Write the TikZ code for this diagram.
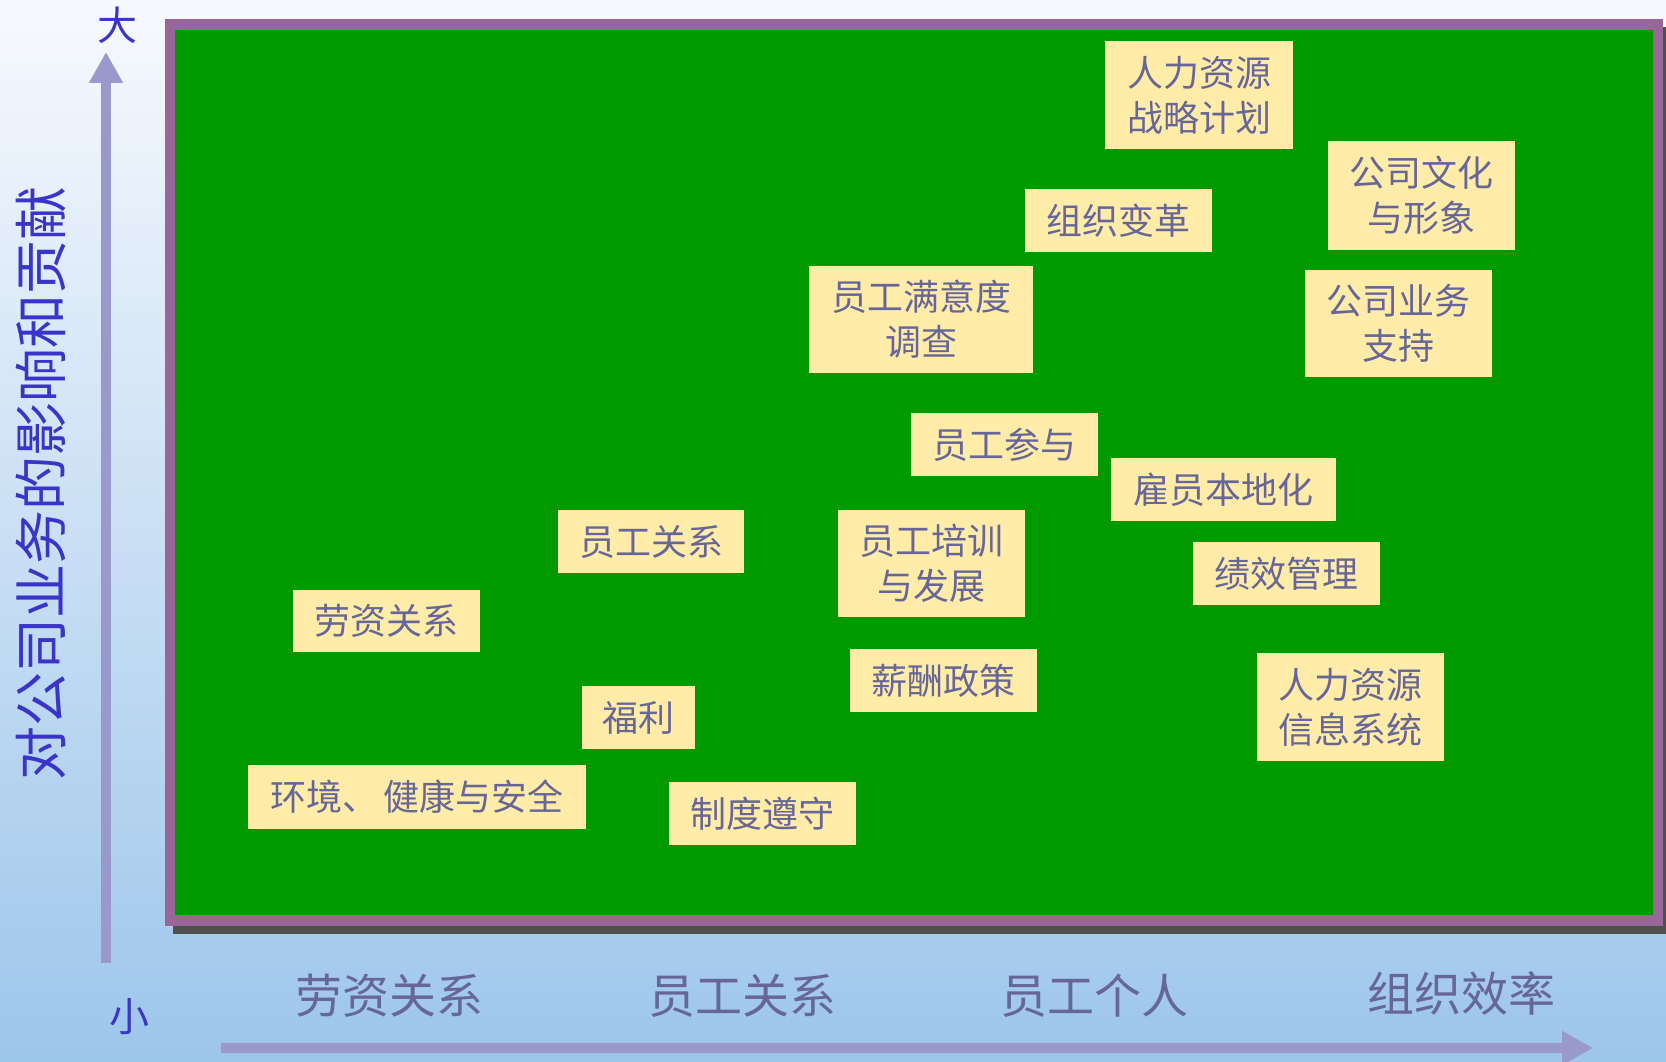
\documentclass[tikz,border=0pt]{standalone}
\usepackage{fontspec}
\setmainfont{Noto Sans CJK SC}
\usetikzlibrary{arrows.meta}
\definecolor{bgtop}{HTML}{F7F9FE}
\definecolor{bgbot}{HTML}{9DC6EB}
\definecolor{frame}{HTML}{996699}
\definecolor{field}{HTML}{009900}
\definecolor{shadowc}{HTML}{505050}
\definecolor{boxfill}{HTML}{FFECA8}
\definecolor{slate}{HTML}{666699}
\definecolor{axblue}{HTML}{3A35C8}
\definecolor{arrowc}{HTML}{9999CC}
\tikzset{
  item/.style={fill=boxfill, text=slate, inner sep=0pt, align=center,
    font=\fontsize{36}{45}\selectfont},
  axlabel/.style={text=slate, inner sep=0pt, font=\fontsize{47}{52}\selectfont},
  endlabel/.style={text=axblue, inner sep=0pt, font=\fontsize{40}{42}\selectfont},
  axisarrow/.style={draw=arrowc, line width=10.5pt,
    -{Triangle[width=32pt,length=31pt]}}
}
\begin{document}
\begin{tikzpicture}[x=1pt,y=-1pt]
\useasboundingbox (0,0) rectangle (1666,1062);
\shade[top color=bgtop, bottom color=bgbot] (0,0) rectangle (1666,1062);
% frame
\fill[shadowc] (173,27) rectangle (1671,934);
\fill[frame] (165,19) rectangle (1663,926);
\fill[field] (175,30) rectangle (1653,915);
% axes
\coordinate (vb) at (106,963);
\coordinate (vt) at (106,52);
\coordinate (hb) at (221,1048);
\coordinate (ht) at (1593,1048);
\draw[axisarrow] (vb) -- (vt);
\draw[axisarrow] (hb) -- (ht);
\node[endlabel] (big) at (117,25) {大};
\node[endlabel] (small) at (129,1017) {小};
\node[text=axblue, inner sep=0pt, rotate=90, font=\fontsize{54}{58}\selectfont] (ylab) at (41,483) {对公司业务的影响和贡献};
\node[axlabel] (x1) at (389,996) {劳资关系};
\node[axlabel] (x2) at (742,996) {员工关系};
\node[axlabel] (x3) at (1094,996) {员工个人};
\node[axlabel] (x4) at (1461,994) {组织效率};
% items
\node[item, minimum width=188pt, minimum height=108pt] (b1) at (1199,95) {人力资源\\战略计划};
\node[item, minimum width=187pt, minimum height=109pt] (b2) at (1421.5,195.5) {公司文化\\与形象};
\node[item, minimum width=187pt, minimum height=63pt] (b3) at (1118.5,220.5) {组织变革};
\node[item, minimum width=224pt, minimum height=107pt] (b4) at (921,319.5) {员工满意度\\调查};
\node[item, minimum width=187pt, minimum height=107pt] (b5) at (1398.5,323.5) {公司业务\\支持};
\node[item, minimum width=187pt, minimum height=63pt] (b6) at (1004.5,444.5) {员工参与};
\node[item, minimum width=225pt, minimum height=63pt] (b7) at (1223.5,489.5) {雇员本地化};
\node[item, minimum width=186pt, minimum height=63pt] (b8) at (651,541.5) {员工关系};
\node[item, minimum width=187pt, minimum height=107pt] (b9) at (931.5,563.5) {员工培训\\与发展};
\node[item, minimum width=187pt, minimum height=63pt] (b10) at (1286.5,573.5) {绩效管理};
\node[item, minimum width=187pt, minimum height=62pt] (b11) at (386.5,621) {劳资关系};
\node[item, minimum width=187pt, minimum height=63pt] (b12) at (943.5,680.5) {薪酬政策};
\node[item, minimum width=187pt, minimum height=108pt] (b13) at (1350.5,707) {人力资源\\信息系统};
\node[item, minimum width=113pt, minimum height=63pt] (b14) at (638.5,717.5) {福利};
\node[item, minimum width=338pt, minimum height=64pt] (b15) at (417,797) {环境、\hspace{6pt}健康与安全};
\node[item, minimum width=187pt, minimum height=63pt] (b16) at (762.5,813.5) {制度遵守};
\end{tikzpicture}
\end{document}
